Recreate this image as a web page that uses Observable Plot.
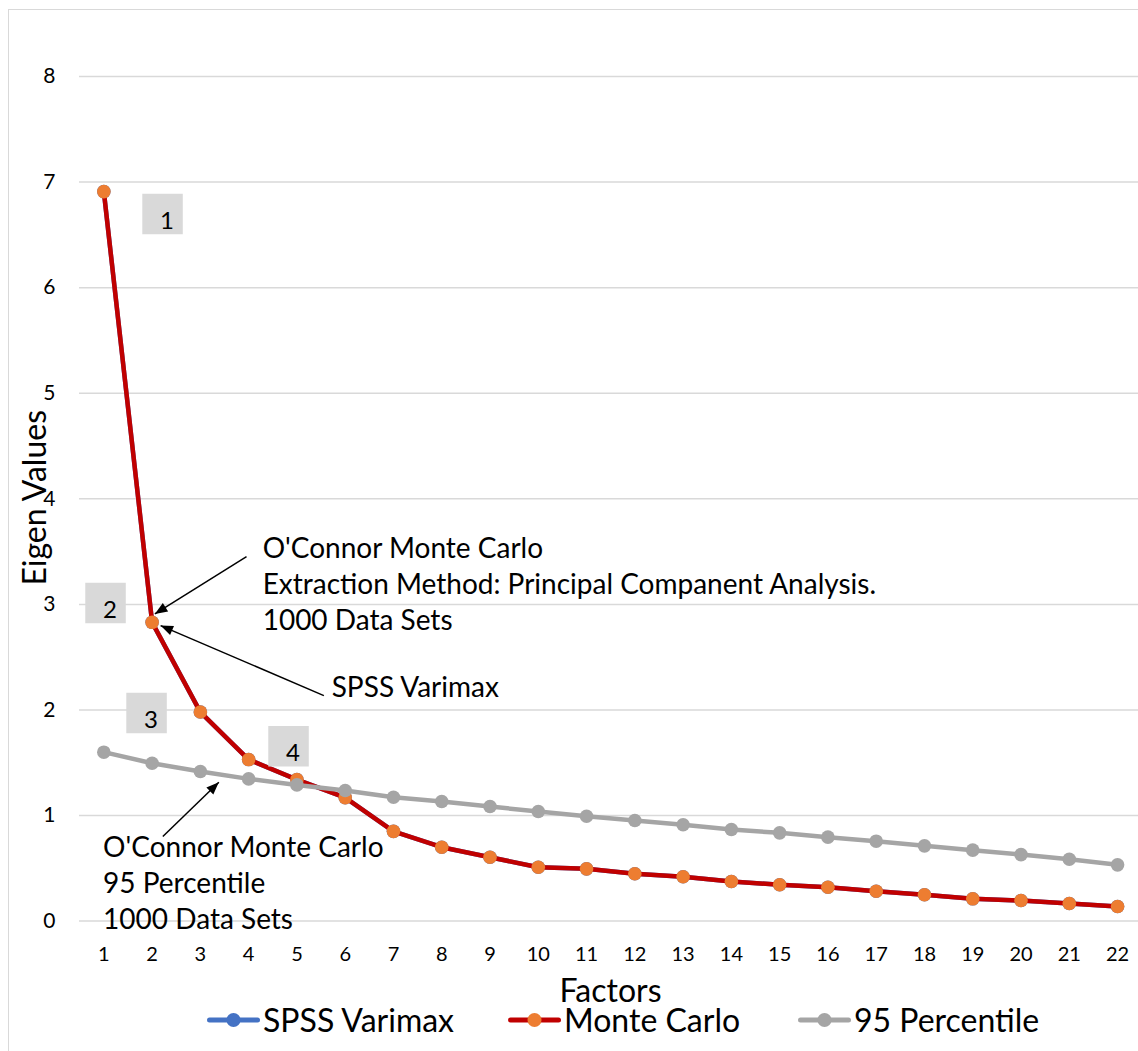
<!DOCTYPE html>
<html>
<head>
<meta charset="utf-8">
<script src="https://cdn.jsdelivr.net/npm/d3@7"></script>
<script src="https://cdn.jsdelivr.net/npm/@observablehq/plot@0.6"></script>
<style>
  body { margin: 0; background: #fff; font-family: Lato, "Noto Sans", sans-serif; color: #000; }
  #chart { position: relative; width: 1138px; height: 1051px; overflow: hidden; background: #fff; }
  #frame { position: absolute; left: 8px; top: 9px; width: 1300px; height: 1300px; border: 1.5px solid #d9d9d9; box-sizing: border-box; }
  #plot { position: absolute; left: 0; top: 0; }
  .legend-item { position: absolute; top: 1001px; display: flex; align-items: center; height: 37px; font-size: 32px; line-height: 37px; white-space: nowrap; }
  .legend-item svg { margin-right: 3px; }
</style>
</head>
<body>
<div id="chart">
  <div id="frame"></div>
  <div id="plot"></div>
  <div id="legend"></div>
</div>
<script>
// Scree plot: eigenvalues per factor, compared with the 95th percentile of
// eigenvalues from 1000 random data sets (O'Connor's parallel analysis).
const factors = [1, 2, 3, 4, 5, 6, 7, 8, 9, 10, 11, 12, 13, 14, 15, 16, 17, 18, 19, 20, 21, 22];
const spssVarimax = [6.91, 2.83, 1.98, 1.53, 1.34, 1.17, 0.85, 0.70, 0.605, 0.51, 0.495, 0.448, 0.42, 0.375, 0.344, 0.32, 0.283, 0.249, 0.211, 0.195, 0.167, 0.138];
const monteCarlo = [6.91, 2.83, 1.98, 1.53, 1.34, 1.17, 0.85, 0.70, 0.605, 0.51, 0.495, 0.448, 0.42, 0.375, 0.344, 0.32, 0.283, 0.249, 0.211, 0.195, 0.167, 0.138];
const percentile95 = [1.60, 1.495, 1.417, 1.347, 1.29, 1.237, 1.173, 1.133, 1.085, 1.038, 0.993, 0.953, 0.912, 0.867, 0.836, 0.795, 0.757, 0.713, 0.672, 0.63, 0.586, 0.533];
const yTicks = [0, 1, 2, 3, 4, 5, 6, 7, 8];

const seriesNames = ["SPSS Varimax", "Monte Carlo", "95 Percentile"];
const lineColors = ["#4472c4", "#c00000", "#a5a5a5"];
const dotColors = ["#4472c4", "#ed7d31", "#a5a5a5"];

// Numbered call-outs for the retained factors (placed in chart units)
const callouts = [
  {label: "1", factor: 2.216, value: 6.698},
  {label: "2", factor: 1.035, value: 3.014},
  {label: "3", factor: 1.885, value: 1.971},
  {label: "4", factor: 4.826, value: 1.655}
];

// Explanatory notes and their pointer arrows (chart units)
const notes = [
  {text: "O'Connor Monte Carlo\nExtraction Method: Principal Companent Analysis.\n1000 Data Sets", factor: 4.29, value: 3.683},
  {text: "SPSS Varimax", factor: 5.72, value: 2.369},
  {text: "O'Connor Monte Carlo\n95 Percentile\n1000 Data Sets", factor: 0.985, value: 0.854}
];
const pointers = [
  {x1: 3.956, y1: 3.453, x2: 2.057, y2: 2.910},
  {x1: 5.558, y1: 2.136, x2: 2.175, y2: 2.799},
  {x1: 2.222, y1: 0.801, x2: 3.382, y2: 1.315}
];

const rows = (values) => factors.map((f, i) => ({factor: f, value: values[i]}));
const series = [rows(spssVarimax), rows(monteCarlo), rows(percentile95)];

const marks = [
  Plot.ruleY(yTicks, {stroke: "#d9d9d9", strokeWidth: 1.5}),
  Plot.axisY(yTicks, {tickSize: 0, tickPadding: 24, fontSize: 21, tickFormat: (d) => String(d), label: null}),
  Plot.axisX(factors, {tickSize: 0, tickPadding: 26, fontSize: 20, tickFormat: (d) => String(d), label: null}),
  Plot.text(["Eigen Values"], {frameAnchor: "left", textAnchor: "middle", rotate: -90, dx: -44, dy: -1, fontSize: 32}),
  Plot.text(["Factors"], {frameAnchor: "bottom", textAnchor: "middle", dy: 81, dx: 1.5, fontSize: 32})
];

series.forEach((data, k) => {
  marks.push(Plot.line(data, {x: "factor", y: "value", stroke: lineColors[k], strokeWidth: 4.5, strokeLinejoin: "round"}));
  marks.push(Plot.dot(data, {x: "factor", y: "value", fill: dotColors[k], r: 6.8}));
});

marks.push(
  Plot.dot(callouts, {x: "factor", y: "value", symbol: "square", r: 22.85, fill: "#d9d9d9"}),
  Plot.text(callouts, {x: "factor", y: "value", text: "label", dx: 4.5, dy: 7, fontSize: 24}),
  Plot.text(notes, {x: "factor", y: "value", text: "text", textAnchor: "start", lineAnchor: "top", lineHeight: 1.286, fontSize: 28}),
  Plot.link(pointers, {x1: "x1", y1: "y1", x2: "x2", y2: "y2", stroke: "#000", strokeWidth: 1.5})
);

const plot = Plot.plot({
  width: 1138,
  height: 1012,
  marginLeft: 79,
  marginRight: 0,
  marginTop: 76,
  marginBottom: 91.4,
  style: {fontFamily: "Lato, 'Noto Sans', sans-serif", fontSize: "20px", background: "transparent", color: "#000", overflow: "visible"},
  x: {type: "linear", domain: [0.5, 22.5], range: [79.2, 1141.2]},
  y: {domain: [0, 8], range: [920.6, 76]},
  marks
});

const svg = d3.select(plot);

// Tick label sizes
svg.selectAll('g[aria-label="y-axis tick label"]').attr("font-size", 21).selectAll("text").attr("font-size", 21);
svg.selectAll('g[aria-label="x-axis tick label"]').attr("font-size", 20).selectAll("text").attr("font-size", 20);

// Filled arrowheads on the pointer lines
svg.append("defs").append("marker")
  .attr("id", "arrowhead")
  .attr("viewBox", "-13 -6 13 12")
  .attr("markerUnits", "userSpaceOnUse")
  .attr("markerWidth", 13)
  .attr("markerHeight", 12)
  .attr("refX", 0)
  .attr("refY", 0)
  .attr("orient", "auto")
  .append("path")
  .attr("d", "M0,0L-12.5,-5L-12.5,5Z")
  .attr("fill", "#000");
svg.selectAll('g[aria-label="link"] path').attr("marker-end", "url(#arrowhead)");

document.getElementById("plot").appendChild(plot);

// Legend below the plot
const legendLeft = [207, 508, 798];
const legend = d3.select("#legend");
seriesNames.forEach((name, k) => {
  const item = legend.append("div").attr("class", "legend-item").style("left", legendLeft[k] + "px");
  const sw = item.append("svg").attr("width", 53).attr("height", 20);
  sw.append("line").attr("x1", 2.5).attr("x2", 50.5).attr("y1", 10).attr("y2", 10)
    .attr("stroke", lineColors[k]).attr("stroke-width", 5).attr("stroke-linecap", "round");
  sw.append("circle").attr("cx", 26.5).attr("cy", 10).attr("r", 7).attr("fill", dotColors[k]);
  item.append("span").text(name);
});
</script>
</body>
</html>
